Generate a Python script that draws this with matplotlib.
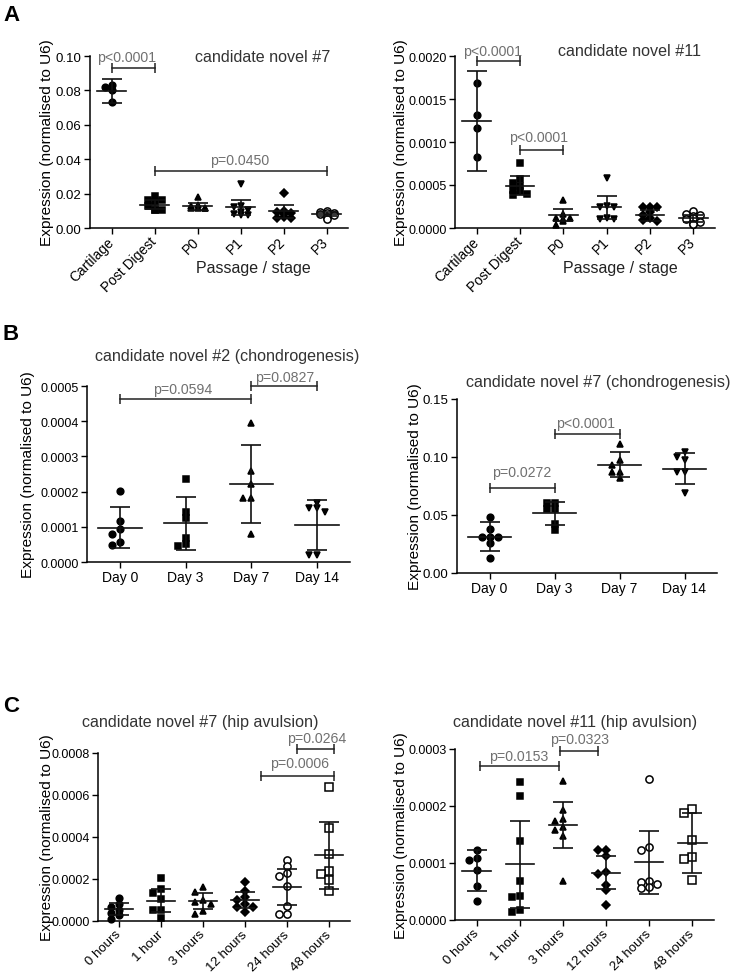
import numpy as np
import matplotlib
matplotlib.use("Agg")
import matplotlib.pyplot as plt
from matplotlib.ticker import FormatStrFormatter

plt.rcParams['font.family'] = ['Liberation Sans', 'DejaVu Sans']

# ---- data ----
# A: candidate novel #7 / #11 across passage
a_cats = ['Cartilage', 'Post Digest', 'P0', 'P1', 'P2', 'P3']
a7_points = [
    [0.0834, 0.0820, 0.0803, 0.0733],
    [0.0184, 0.0165, 0.0160, 0.0149, 0.0130, 0.0106, 0.0106, 0.0106],
    [0.0180, 0.0136, 0.0130, 0.0118, 0.0116, 0.0115, 0.0114],
    [0.0256, 0.0130, 0.0120, 0.0105, 0.0095, 0.0080, 0.0075, 0.0078],
    [0.0202, 0.0100, 0.0095, 0.0090, 0.0080, 0.0060, 0.0058, 0.0062],
    [0.0098, 0.0095, 0.0090, 0.0085, 0.0080, 0.0075, 0.0065, 0.0052],
]
a7_mean = [0.0797, 0.0136, 0.0126, 0.0120, 0.0097, 0.0080]
a7_sd = [0.0072, 0.0025, 0.0020, 0.0045, 0.0037, 0.0012]

a11_points = [
    [0.00169, 0.00131, 0.00116, 0.00082],
    [0.00076, 0.00057, 0.00052, 0.00049, 0.00044, 0.00043, 0.00040, 0.00038],
    [0.00033, 0.00016, 0.00012, 0.00012, 0.00011, 0.00008, 0.00004],
    [0.00058, 0.00026, 0.00025, 0.00025, 0.00012, 0.00011, 0.00010],
    [0.00025, 0.00024, 0.00024, 0.00019, 0.00015, 0.00012, 0.00009, 0.00008],
    [0.00020, 0.00016, 0.00015, 0.00014, 0.00012, 0.00010, 0.00007, 0.00005, 0.00005],
]
a11_mean = [0.00124, 0.00049, 0.00015, 0.00024, 0.00015, 0.000112]
a11_sd = [0.00058, 0.00011, 0.00007, 0.000135, 0.000063, 0.00004]

# B: chondrogenesis
b_cats = ['Day 0', 'Day 3', 'Day 7', 'Day 14']
b2_points = [
    [0.000203, 0.000117, 0.000094, 0.000080, 0.000056, 0.000049],
    [0.000236, 0.000141, 0.000124, 0.000067, 0.000050, 0.000046],
    [0.000395, 0.000259, 0.000221, 0.000183, 0.000181, 0.000080],
    [0.000168, 0.000153, 0.000153, 0.000141, 0.000020, 0.000020],
]
b2_mean = [0.000098, 0.000110, 0.000221, 0.000106]
b2_sd = [0.000058, 0.000076, 0.000110, 0.000071]

b7_points = [
    [0.048, 0.038, 0.031, 0.031, 0.031, 0.026, 0.0127],
    [0.060, 0.060, 0.055, 0.055, 0.042, 0.037],
    [0.111, 0.097, 0.093, 0.087, 0.087, 0.082],
    [0.104, 0.100, 0.097, 0.087, 0.087, 0.069],
]
b7_mean = [0.0313, 0.0514, 0.0934, 0.0900]
b7_sd = [0.0124, 0.0101, 0.0109, 0.0134]

# C: hip avulsion
c_cats = ['0 hours', '1 hour', '3 hours', '12 hours', '24 hours', '48 hours']
c7_points = [
    [0.000108, 0.000081, 0.000065, 0.000054, 0.000040, 0.000029, 0.000010],
    [0.000205, 0.000152, 0.000132, 0.000105, 0.000052, 0.000052, 0.000013],
    [0.000160, 0.000140, 0.000100, 0.000090, 0.000080, 0.000050, 0.000035],
    [0.000184, 0.000144, 0.000113, 0.000101, 0.000081, 0.000068, 0.000068, 0.000041],
    [0.000289, 0.000260, 0.000227, 0.000213, 0.000168, 0.000073, 0.000032, 0.000032],
    [0.000637, 0.000441, 0.000321, 0.000237, 0.000222, 0.000195, 0.000141],
]
c7_mean = [0.000057, 0.000097, 0.000095, 0.000101, 0.000163, 0.000313]
c7_sd = [0.000029, 0.000055, 0.000040, 0.000038, 0.000087, 0.000160]

c11_points = [
    [0.000123, 0.000109, 0.000106, 0.000087, 0.000059, 0.000034],
    [0.000242, 0.000218, 0.000139, 0.000068, 0.000042, 0.000040, 0.000018, 0.000014],
    [0.000243, 0.000193, 0.000177, 0.000174, 0.000163, 0.000158, 0.000147, 0.000069],
    [0.000123, 0.000122, 0.000112, 0.000084, 0.000080, 0.000062, 0.000053, 0.000027],
    [0.000247, 0.000128, 0.000122, 0.000069, 0.000066, 0.000063, 0.000058, 0.000057],
    [0.000195, 0.000188, 0.000141, 0.000110, 0.000107, 0.000071],
]
c11_mean = [0.0000865, 0.0000977, 0.0001667, 0.000083, 0.000101, 0.000135]
c11_sd = [0.0000355, 0.000076, 0.000041, 0.000029, 0.000055, 0.000052]

# significance brackets: (x start, x end, y, label, label x, label y)
a7_sig = [(0, 1, 0.0930, 'p<0.0001', 0.36, 0.0994),
          (1, 5, 0.0333, 'p=0.0450', 2.97, 0.0395)]
a11_sig = [(0, 1, 0.001945, 'p<0.0001', 0.37, 0.00206),
           (1, 2, 0.000907, 'p<0.0001', 1.44, 0.00106)]
b2_sig = [(0, 2, 0.000463, 'p=0.0594', 0.96, 0.000491),
          (2, 3, 0.000499, 'p=0.0827', 2.50, 0.000526)]
b7_sig = [(0, 1, 0.0730, 'p=0.0272', 0.50, 0.0873),
          (1, 2, 0.1198, 'p<0.0001', 1.48, 0.129)]
c7_sig = [(3.37, 5.12, 0.000692, 'p=0.0006', 4.29, 0.000751),
          (4.24, 5.12, 0.000819, 'p=0.0264', 4.71, 0.00087)]
c11_sig = [(0.08, 1.91, 0.000271, 'p=0.0153', 0.98, 0.000288),
           (1.93, 2.81, 0.000297, 'p=0.0323', 2.39, 0.000318)]

# ---- styles ----
W, H = 733, 979
GREY = '#707070'
mk_a = [('o', True), ('s', True), ('^', True), ('v', True), ('D', True), ('o', False)]
mk_b = [('o', True), ('s', True), ('^', True), ('v', True)]
mk_c = [('o', True), ('s', True), ('^', True), ('D', True), ('o', False), ('s', False)]

fig = plt.figure(figsize=(W / 100, H / 100), dpi=100)


def box(l, t, r, b):
    return [l / W, 1 - b / H, (r - l) / W, (b - t) / H]


def swarm(ax, vals, step, ythr=5.0):
    # small beeswarm in pixel space: 0, left, right, then half steps
    px = ax.transData.transform((1, 0))[0] - ax.transData.transform((0, 0))[0]
    ys = [ax.transData.transform((0, v))[1] for v in vals]
    cands = [0, -1, 1, -0.5, 0.5]
    placed = []
    offs = []
    for y in ys:
        best, best_n = 0, None
        for k in cands:
            dx = k * step
            hits = sum(1 for a, b in placed
                       if abs(dx - a) < step * 0.9 and abs(y - b) < ythr)
            if best_n is None or hits < best_n:
                best, best_n = dx, hits
            if hits == 0:
                break
        placed.append((best, y))
        offs.append(best / px)
    return offs


def panel(rect, cats, pts, mean, sd, marks, ytop, ystep, fmt, sig,
          ytick_fs=9, xtick_fs=10, rot=0, step=7.5):
    ax = fig.add_axes(box(*rect))
    n = len(cats)
    ax.set_xlim(-0.5, n - 0.5)
    ax.set_ylim(0, ytop)
    ax.set_yticks(np.arange(0, ytop + ystep / 2, ystep))
    ax.yaxis.set_major_formatter(FormatStrFormatter(fmt))
    ax.set_xticks(range(n))
    if rot:
        ax.set_xticklabels(cats, rotation=45, ha='right', va='center',
                           rotation_mode='anchor', fontsize=xtick_fs)
    else:
        ax.set_xticklabels(cats, fontsize=xtick_fs)
    for s in ['top', 'right']:
        ax.spines[s].set_visible(False)
    for s in ['left', 'bottom']:
        ax.spines[s].set_linewidth(1.1)
    ax.tick_params(direction='out', length=4, width=1.0, labelsize=ytick_fs, pad=2)
    ax.tick_params(axis='x', labelsize=xtick_fs, pad=4 if rot else 2)
    for i, vals in enumerate(pts):
        m, filled = marks[i]
        offs = swarm(ax, vals, step)
        ms = 4.2 if m == 'D' else 4.8
        if not filled:
            ms = 5.2
        ax.plot(np.array(offs) + i, vals, ls='none', marker=m, ms=ms,
                mfc='black' if filled else 'white', mec='black',
                mew=1.1, zorder=3, clip_on=False)
    hw = 0.33
    for i in range(n):
        ax.plot([i - hw, i + hw], [mean[i], mean[i]], color='#111111', lw=1.2, zorder=4)
    ax.errorbar(range(n), mean, yerr=sd, fmt='none', ecolor='#111111',
                elinewidth=1.2, capsize=7, capthick=1.2, zorder=4)
    for x1, x2, y, lab, tx, ty in sig:
        ax.plot([x1, x2], [y, y], color='#222222', lw=1.1, clip_on=False)
        ax.plot([x1, x2], [y, y], ls='none', marker='|', ms=7, mew=1.1,
                color='#222222', clip_on=False)
        ax.text(tx, ty, lab, ha='center', va='center', fontsize=10.2,
                color=GREY, clip_on=False)
    return ax


panel((90, 57, 348, 229), a_cats, a7_points, a7_mean, a7_sd, mk_a,
      0.10, 0.02, '%.2f', a7_sig, ytick_fs=9.5, xtick_fs=10, rot=True, step=7)
panel((455, 57, 715, 229), a_cats, a11_points, a11_mean, a11_sd, mk_a,
      0.0020, 0.0005, '%.4f', a11_sig, ytick_fs=9, xtick_fs=10, rot=True, step=7)
panel((87, 387, 350, 563), b_cats, b2_points, b2_mean, b2_sd, mk_b,
      0.0005, 0.0001, '%.4f', b2_sig, ytick_fs=9, xtick_fs=10, step=8)
panel((457, 400, 717, 574), b_cats, b7_points, b7_mean, b7_sd, mk_b,
      0.15, 0.05, '%.2f', b7_sig, ytick_fs=9.5, xtick_fs=10, step=8)
panel((98, 754, 350, 922), c_cats, c7_points, c7_mean, c7_sd, mk_c,
      0.0008, 0.0002, '%.4f', c7_sig, ytick_fs=9, xtick_fs=9.5, rot=True, step=8)
panel((455, 750, 714, 921), c_cats, c11_points, c11_mean, c11_sd, mk_c,
      0.0003, 0.0001, '%.4f', c11_sig, ytick_fs=9, xtick_fs=9.5, rot=True, step=8)


def ftext(x, y, s, **kw):
    fig.text(x / W, 1 - y / H, s, **kw)


ylab = 'Expression (normalised to U6)'
for x, y in [(47, 143), (401, 143), (28, 475), (415, 487), (47, 838), (401, 836)]:
    ftext(x, y, ylab, rotation=90, ha='center', va='center', fontsize=11.1)

titles = [(263, 58, 'candidate novel #7'), (630, 51, 'candidate novel #11'),
          (227, 357, 'candidate novel #2 (chondrogenesis)'),
          (598, 383, 'candidate novel #7 (chondrogenesis)'),
          (200, 722, 'candidate novel #7 (hip avulsion)'),
          (575, 722, 'candidate novel #11 (hip avulsion)')]
for x, y, s in titles:
    ftext(x, y, s, ha='center', va='center', fontsize=11.6, color='#333333')

for x in [253, 620]:
    ftext(x, 268, 'Passage / stage', ha='center', va='center', fontsize=11.5, color='#222222')

for y, s in [(5, 'A'), (324, 'B'), (696, 'C')]:
    ftext(3, y, s, ha='left', va='top', fontsize=16, fontweight='bold')

fig.savefig('out.png', dpi=100)
